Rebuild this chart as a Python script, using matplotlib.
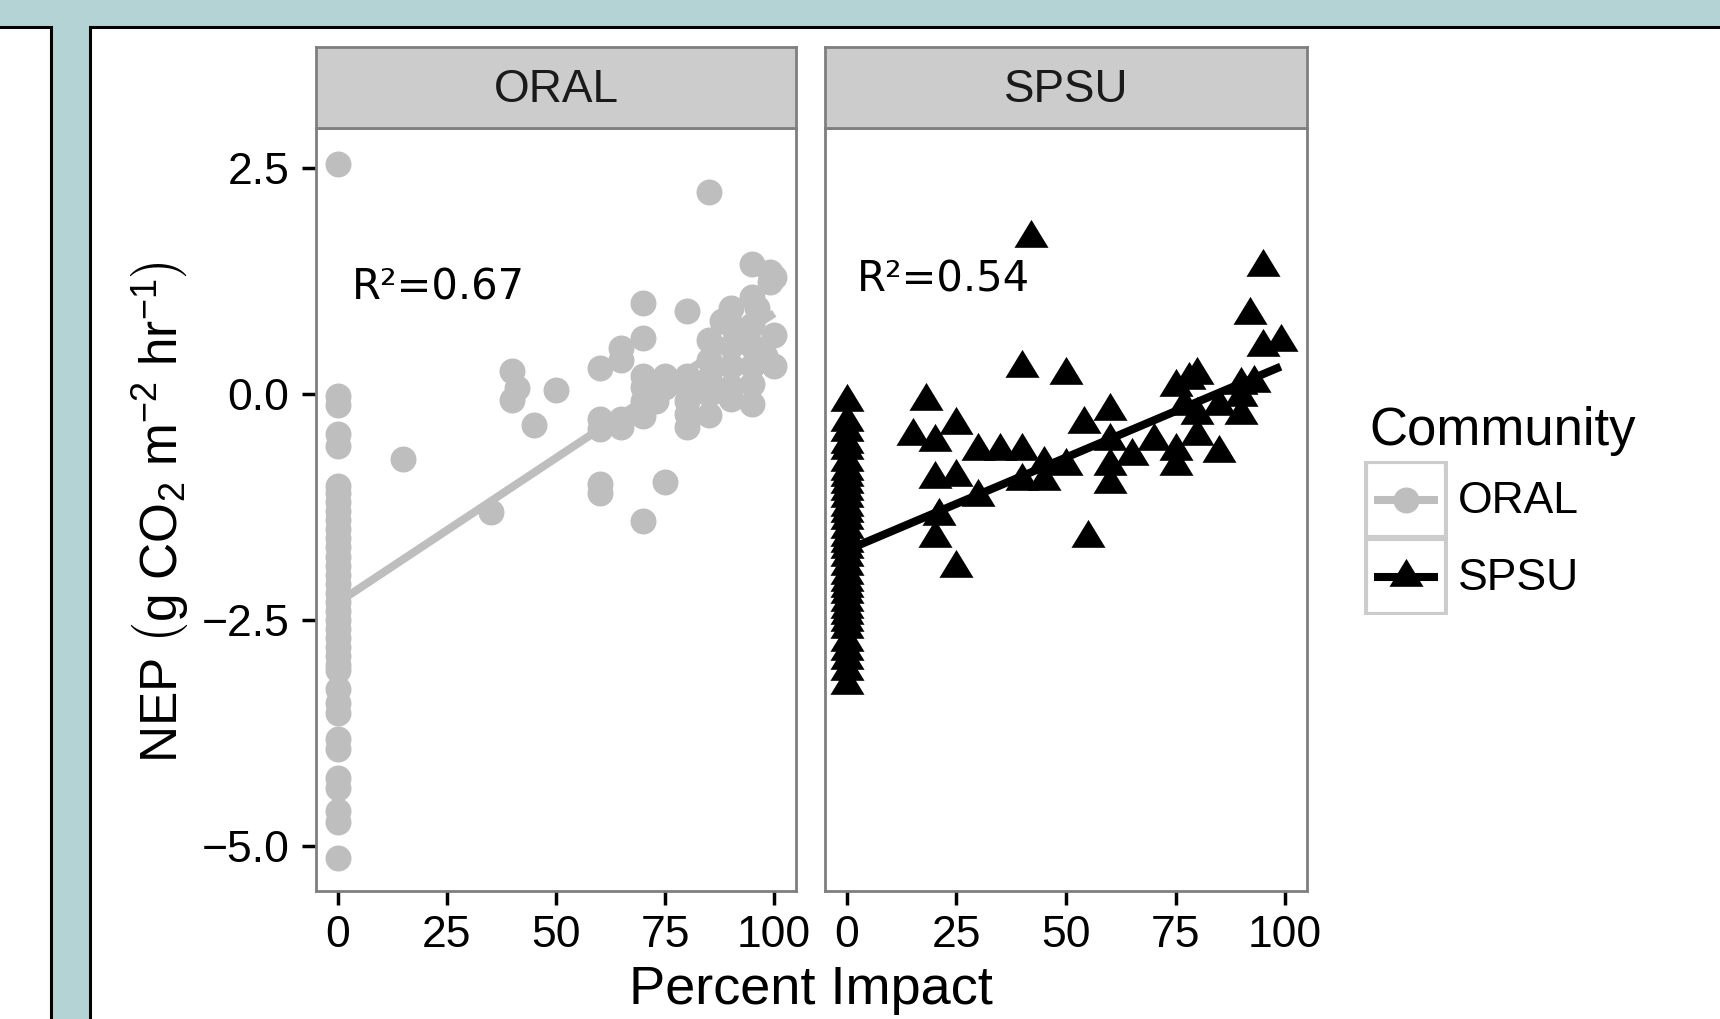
import numpy as np
import matplotlib.pyplot as plt
from matplotlib.patches import Rectangle

plt.rcParams['font.family'] = ['Liberation Sans', 'DejaVu Sans']
plt.rcParams['mathtext.fontset'] = 'custom'
plt.rcParams['mathtext.rm'] = 'Liberation Sans'
plt.rcParams['mathtext.it'] = 'Liberation Sans:italic'

# ---- data ----
oral_x = [0]*37 + [15, 35, 40, 41, 40, 45, 50,
                   60, 60, 60, 60, 60,
                   65, 65, 65, 65,
                   70, 70, 70, 70, 70, 70, 70,
                   75, 75, 75, 73,
                   80, 80, 80, 80, 80, 80,
                   85, 85, 85, 85, 85, 85,
                   88, 90, 90, 90, 90, 90, 90, 93,
                   95, 95, 96, 95, 95, 95, 95, 95,
                   99, 100, 99, 100, 100, 98]
oral_y = [2.54, -0.03, -0.12, -0.45, -0.58, -1.02, -1.1, -1.2, -1.3, -1.4, -1.5,
          -1.6, -1.7, -1.8, -1.9, -2.0, -2.1, -2.2, -2.3, -2.4, -2.5, -2.6, -2.7,
          -2.8, -2.9, -3.0, -3.05, -3.27, -3.42, -3.53, -3.82, -3.93, -4.25,
          -4.36, -4.61, -4.74, -5.13,
          -0.72, -1.31, 0.25, 0.06, -0.07, -0.35, 0.04,
          0.29, -0.28, -0.39, -1.0, -1.1,
          0.51, 0.37, -0.28, -0.37,
          1.0, 0.62, 0.2, 0.08, -0.08, -0.25, -1.41,
          0.2, 0.08, -0.98, -0.08,
          0.92, 0.2, 0.08, -0.08, -0.22, -0.37,
          2.23, 0.59, 0.37, 0.17, 0.0, -0.24,
          0.81, 0.95, 0.76, 0.53, 0.31, 0.08, -0.06, 0.59,
          1.44, 1.07, 0.95, 0.76, 0.53, 0.31, 0.11, -0.11,
          1.35, 1.29, 1.24, 0.65, 0.31, 0.42]

spsu_x = [0]*34 + [42, 95, 92, 95, 99, 40, 50, 18, 15, 20, 25, 20, 20, 25,
                   21, 25, 30, 30, 35, 40, 40, 45, 45, 50, 54, 55,
                   60, 60, 60, 60, 65, 70, 75, 75, 75, 78, 80, 80, 80,
                   85, 85, 90, 90, 93, 90, 77]
spsu_y = [-0.09, -0.31, -0.42, -0.55, -0.62, -0.75, -0.85, -0.92, -1.0, -1.08,
          -1.15, -1.25, -1.32, -1.4, -1.5, -1.58, -1.65, -1.72, -1.8, -1.9,
          -2.0, -2.08, -2.15, -2.22, -2.3, -2.38, -2.45, -2.52, -2.6, -2.75,
          -2.85, -2.94, -3.07, -3.22,
          1.72, 1.40, 0.87, 0.52, 0.57, 0.28, 0.21, -0.08, -0.47, -0.53, -0.34,
          -0.94, -1.59, -1.93, -1.35, -0.92, -1.14, -0.63, -0.63, -0.63, -0.97,
          -0.97, -0.78, -0.80, -0.33, -1.59, -0.19, -0.52, -0.80, -1.0, -0.69,
          -0.52, 0.07, -0.80, -0.63, 0.15, 0.21, -0.24, -0.47, -0.66, -0.13,
          0.10, -0.24, 0.12, -0.04, -0.13]

# fitted lines (lm) as drawn
oral_fit_x = [0, 100]
oral_fit_y = [-2.31, 0.89]
spsu_fit_x = [0, 99]
spsu_fit_y = [-1.73, 0.30]

panels = ['ORAL', 'SPSU']
r2_text = ['R²=0.67', 'R²=0.54']
r2_pos = [(3.2, 1.04), (2.3, 1.13)]
x_ticks = [0, 25, 50, 75, 100]
y_ticks = [-5.0, -2.5, 0.0, 2.5]

col_oral = '#bebebe'
col_spsu = '#000000'
grey_border = '#7f7f7f'

# triangle marker, centred on its centroid
tri = [(-1, -0.547), (1, -0.547), (0, 1.093)]

W, H = 1720, 1019
fig = plt.figure(figsize=(W/100, H/100), dpi=100, facecolor='#b3d3d4')

# white card backgrounds
fig.patches.append(Rectangle((-0.01, -0.01), 51/W + 0.01, 1 - 27/H + 0.01,
                             transform=fig.transFigure, facecolor='white',
                             edgecolor='black', lw=2.2, zorder=-5))
fig.patches.append(Rectangle((90/W, -0.01), 1, 1 - 27/H + 0.01,
                             transform=fig.transFigure, facecolor='white',
                             edgecolor='black', lw=2.2, zorder=-5))

lefts = [316, 825]
widths = [480, 482]
top, bottom = 128, 891
strip_top = 47

data = [(oral_x, oral_y, oral_fit_x, oral_fit_y, col_oral, 'o', 18.7),
        (spsu_x, spsu_y, spsu_fit_x, spsu_fit_y, col_spsu, tri, 26.8)]

for i, name in enumerate(panels):
    l, w = lefts[i], widths[i]
    ax = fig.add_axes([l/W, 1 - bottom/H, w/W, (bottom - top)/H])
    xs, ys, fx, fy, c, mk, ms = data[i]
    if i == 0:
        ax.plot(fx, fy, color=c, lw=5.8, zorder=2, solid_capstyle='butt')
        ax.plot(xs, ys, ls='none', marker=mk, ms=ms, color=c, mew=0, zorder=3)
    else:
        ax.plot(xs, ys, ls='none', marker=mk, ms=ms, color=c, mew=0, zorder=3)
        ax.plot(fx, fy, color=c, lw=5.8, zorder=4, solid_capstyle='butt')
    ax.set_xlim(-5, 105)
    ax.set_ylim(-5.5, 2.94)
    ax.set_xticks(x_ticks)
    ax.set_xticklabels([str(t) for t in x_ticks])
    ax.set_yticks(y_ticks)
    ax.tick_params(axis='both', length=10, width=2.5, color='black',
                   labelsize=32, labelcolor='black')
    ax.tick_params(axis='y', pad=9)
    ax.tick_params(axis='x', pad=7)
    if i == 1:
        ax.tick_params(axis='y', left=False, labelleft=False)
    for s in ax.spines.values():
        s.set_color(grey_border)
        s.set_linewidth(2)
    ax.text(r2_pos[i][0], r2_pos[i][1], r2_text[i], fontsize=30,
            family='DejaVu Sans', color='black', ha='left', va='baseline')

    sax = fig.add_axes([l/W, 1 - top/H, w/W, (top - strip_top)/H])
    sax.set_facecolor('#cccccc')
    sax.set_xticks([])
    sax.set_yticks([])
    for s in sax.spines.values():
        s.set_color(grey_border)
        s.set_linewidth(2)
    sax.text(0.5, 0.47, name, transform=sax.transAxes, ha='center',
             va='center', fontsize=33, color='#1a1a1a')

# axis titles
fig.text(811/W, 1 - 1004/H, 'Percent Impact', ha='center', va='baseline',
         fontsize=39)
fig.text(160/W, 1 - 512/H,
         r'NEP$\ \left(\mathrm{g\ CO_2\ m^{-2}\ hr^{-1}}\right)$',
         rotation=90, ha='center', va='center', fontsize=37)

# legend
lax = fig.add_axes([1364/W, 1 - 615/H, 84/W, 154/H])
lax.set_xlim(0, 1)
lax.set_ylim(0, 2)
lax.axis('off')
for k, (c, mk, ms) in enumerate([(col_oral, 'o', 18.7), (col_spsu, tri, 26.8)]):
    yc = 1.5 - k
    lax.add_patch(Rectangle((0.02, yc - 0.49), 0.96, 0.98, facecolor='white',
                            edgecolor='#cccccc', lw=3))
    lax.plot([0.12, 0.88], [yc, yc], color=c, lw=5.8, solid_capstyle='butt')
    lax.plot([0.5], [yc], ls='none', marker=mk, ms=ms, color=c, mew=0)
    lax.text(1.12, yc - 0.02, panels[k], ha='left', va='center', fontsize=32,
             transform=lax.transData, clip_on=False)
fig.text(1369/W, 1 - 445/H, 'Community', ha='left', va='baseline', fontsize=38)

fig.savefig('out.png', dpi=100, facecolor=fig.get_facecolor())
